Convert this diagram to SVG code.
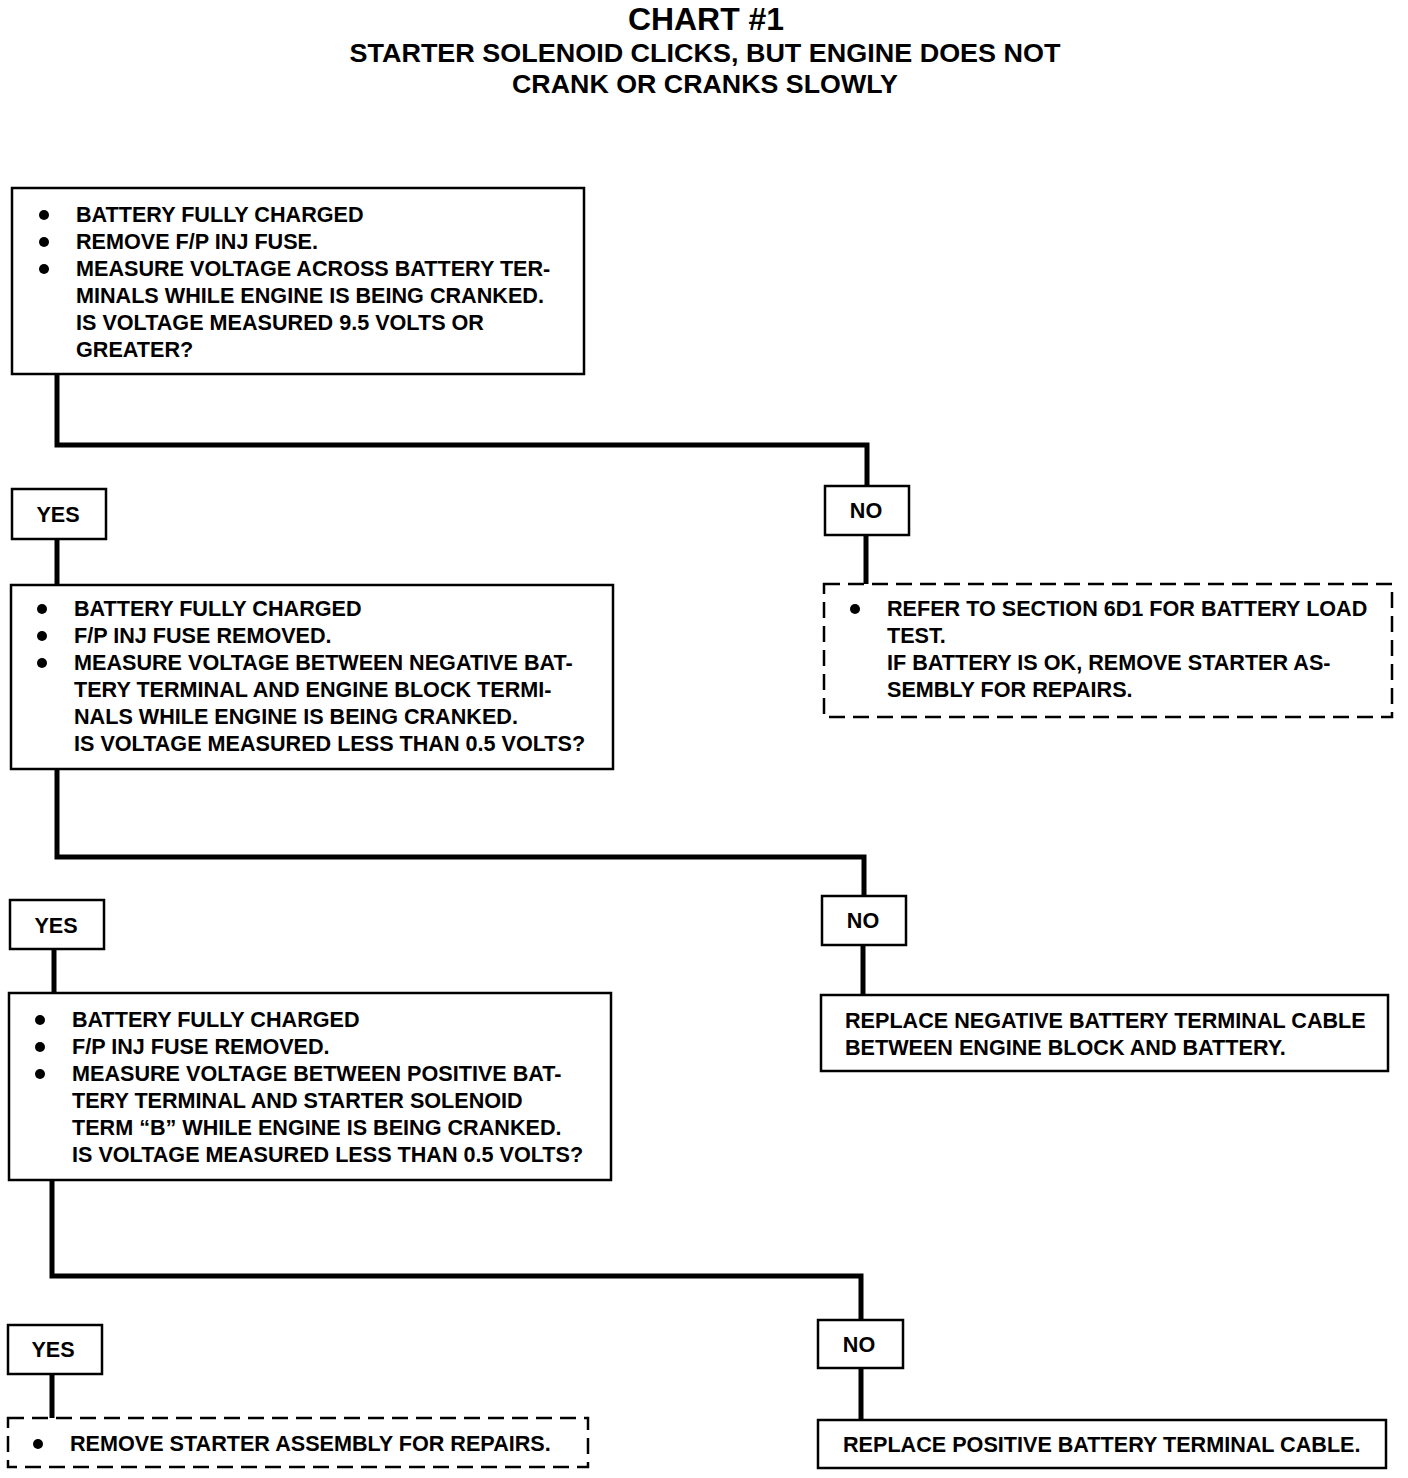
<svg xmlns="http://www.w3.org/2000/svg" width="1408" height="1478" viewBox="0 0 1408 1478">
<style>
text{font-family:"Liberation Sans",Arial,sans-serif;font-weight:bold;fill:#000}
.t{font-size:21.6px}
.h1{font-size:31px}
.h2{font-size:26px}
.box{fill:#fff;stroke:#000;stroke-width:2.5}
.dash{fill:#fff;stroke:#000;stroke-width:2.5;stroke-dasharray:16 8}
.con{fill:none;stroke:#000;stroke-width:5}
.lbl{text-anchor:middle}
</style>
<rect width="1408" height="1478" fill="#fff"/>
<g id="title">
<text class="h1" x="706" y="30" text-anchor="middle" textLength="156" lengthAdjust="spacingAndGlyphs">CHART #1</text>
<text class="h2" x="705" y="62" text-anchor="middle" textLength="711" lengthAdjust="spacingAndGlyphs">STARTER SOLENOID CLICKS, BUT ENGINE DOES NOT</text>
<text class="h2" x="705" y="93" text-anchor="middle" textLength="386" lengthAdjust="spacingAndGlyphs">CRANK OR CRANKS SLOWLY</text>
</g>
<g id="connectors">
<polyline class="con" points="57,374 57,445 867,445 867,486"/>
<line class="con" x1="57" y1="539" x2="57" y2="585"/>
<line class="con" x1="866" y1="535" x2="866" y2="584"/>
<polyline class="con" points="57,769 57,857 864,857 864,896"/>
<line class="con" x1="54" y1="949" x2="54" y2="993"/>
<line class="con" x1="863" y1="945" x2="863" y2="995"/>
<polyline class="con" points="52,1180 52,1276 861,1276 861,1320"/>
<line class="con" x1="52" y1="1374" x2="52" y2="1418"/>
<line class="con" x1="861" y1="1368" x2="861" y2="1420"/>
</g>
<g id="box1">
<rect class="box" x="12" y="188" width="572" height="186"/>
<circle cx="44" cy="215" r="5"/><circle cx="44" cy="242" r="5"/><circle cx="44" cy="269" r="5"/>
<text class="t" x="76" y="222">BATTERY FULLY CHARGED</text>
<text class="t" x="76" y="249">REMOVE F/P INJ FUSE.</text>
<text class="t" x="76" y="276">MEASURE VOLTAGE ACROSS BATTERY TER-</text>
<text class="t" x="76" y="303">MINALS WHILE ENGINE IS BEING CRANKED.</text>
<text class="t" x="76" y="330">IS VOLTAGE MEASURED 9.5 VOLTS OR</text>
<text class="t" x="76" y="357">GREATER?</text>
</g>
<g id="yes1"><rect class="box" x="12" y="489" width="94" height="50"/><text class="t lbl" x="58" y="522">YES</text></g>
<g id="no1"><rect class="box" x="825" y="486" width="84" height="49"/><text class="t lbl" x="866" y="518">NO</text></g>
<g id="box2">
<rect class="box" x="11" y="585" width="602" height="184"/>
<circle cx="42" cy="609" r="5"/><circle cx="42" cy="636" r="5"/><circle cx="42" cy="663" r="5"/>
<text class="t" x="74" y="616">BATTERY FULLY CHARGED</text>
<text class="t" x="74" y="643">F/P INJ FUSE REMOVED.</text>
<text class="t" x="74" y="670">MEASURE VOLTAGE BETWEEN NEGATIVE BAT-</text>
<text class="t" x="74" y="697">TERY TERMINAL AND ENGINE BLOCK TERMI-</text>
<text class="t" x="74" y="724">NALS WHILE ENGINE IS BEING CRANKED.</text>
<text class="t" x="74" y="751">IS VOLTAGE MEASURED LESS THAN 0.5 VOLTS?</text>
</g>
<g id="refer">
<rect class="dash" x="824" y="584" width="568" height="133"/>
<circle cx="855" cy="609" r="5"/>
<text class="t" x="887" y="616">REFER TO SECTION 6D1 FOR BATTERY LOAD</text>
<text class="t" x="887" y="643">TEST.</text>
<text class="t" x="887" y="670">IF BATTERY IS OK, REMOVE STARTER AS-</text>
<text class="t" x="887" y="697">SEMBLY FOR REPAIRS.</text>
</g>
<g id="yes2"><rect class="box" x="10" y="900" width="94" height="49"/><text class="t lbl" x="56" y="933">YES</text></g>
<g id="no2"><rect class="box" x="822" y="896" width="84" height="49"/><text class="t lbl" x="863" y="928">NO</text></g>
<g id="neg">
<rect class="box" x="821" y="995" width="567" height="76"/>
<text class="t" x="845" y="1028">REPLACE NEGATIVE BATTERY TERMINAL CABLE</text>
<text class="t" x="845" y="1055">BETWEEN ENGINE BLOCK AND BATTERY.</text>
</g>
<g id="box3">
<rect class="box" x="9" y="993" width="602" height="187"/>
<circle cx="40" cy="1020" r="5"/><circle cx="40" cy="1047" r="5"/><circle cx="40" cy="1074" r="5"/>
<text class="t" x="72" y="1027">BATTERY FULLY CHARGED</text>
<text class="t" x="72" y="1054">F/P INJ FUSE REMOVED.</text>
<text class="t" x="72" y="1081">MEASURE VOLTAGE BETWEEN POSITIVE BAT-</text>
<text class="t" x="72" y="1108">TERY TERMINAL AND STARTER SOLENOID</text>
<text class="t" x="72" y="1135">TERM “B” WHILE ENGINE IS BEING CRANKED.</text>
<text class="t" x="72" y="1162">IS VOLTAGE MEASURED LESS THAN 0.5 VOLTS?</text>
</g>
<g id="yes3"><rect class="box" x="8" y="1325" width="94" height="49"/><text class="t lbl" x="53" y="1357">YES</text></g>
<g id="no3"><rect class="box" x="818" y="1320" width="85" height="48"/><text class="t lbl" x="859" y="1352">NO</text></g>
<g id="remove">
<rect class="dash" x="8" y="1418" width="580" height="49"/>
<circle cx="38" cy="1444" r="5"/>
<text class="t" x="70" y="1451">REMOVE STARTER ASSEMBLY FOR REPAIRS.</text>
</g>
<g id="pos">
<rect class="box" x="818" y="1420" width="568" height="48"/>
<text class="t" x="843" y="1452">REPLACE POSITIVE BATTERY TERMINAL CABLE.</text>
</g>
</svg>
